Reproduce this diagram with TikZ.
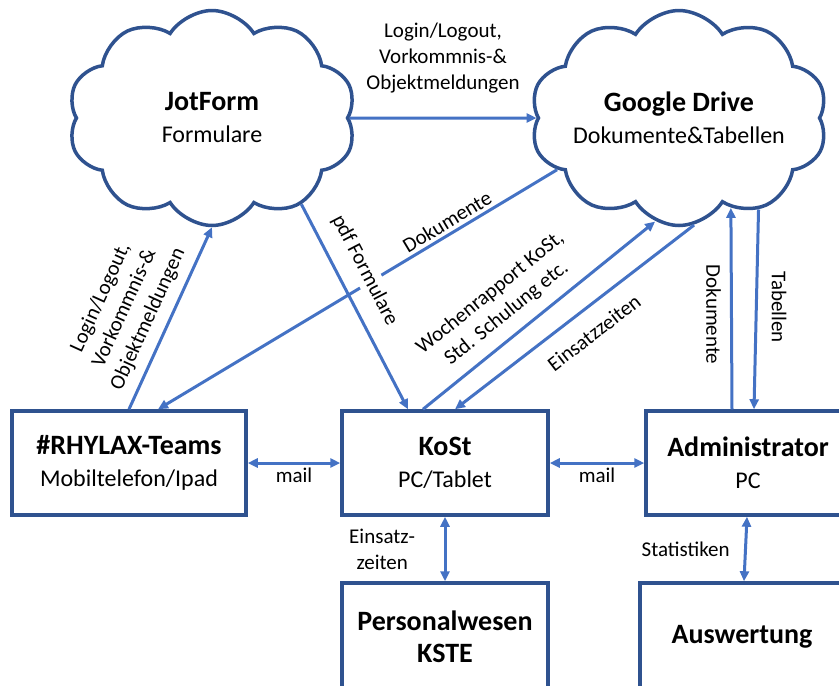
\documentclass[tikz,border=0pt]{standalone}
\usepackage{fontspec}
\setmainfont{Carlito}
\usepackage{xcolor}
\usepackage{tikz}
\usetikzlibrary{shapes, arrows.meta, positioning, calc}
\definecolor{linkblue}{HTML}{4472C4}
\definecolor{edgeblue}{HTML}{2F528F}
\newcommand{\kopf}[1]{{\fontsize{28}{34}\selectfont\bfseries #1}}
\tikzset{
    wolke/.style={
        cloud, draw=edgeblue, line width=3.5pt,
        cloud puffs=10, cloud puff arc=115, cloud ignores aspect,
        minimum width=288pt, minimum height=215pt, inner sep=0pt,
        align=center, font=\fontsize{24}{32}\selectfont
    },
    block/.style={
        rectangle, draw=edgeblue, line width=3.5pt,
        align=center, minimum height=104pt,
        font=\fontsize{24}{32}\selectfont
    },
    line/.style={draw=linkblue, line width=3pt, >={Triangle[length=10pt,width=9pt]}},
    lbl/.style={font=\fontsize{21}{26}\selectfont, align=center, text=black}
}

\begin{document}
\begin{tikzpicture}[x=1pt, y=-1pt]
    \useasboundingbox (0,0) rectangle (839,686);
    % clouds
    \node [wolke] (jot) at (212,118) {\kopf{JotForm}\\Formulare};
    \node [wolke, right of=jot, node distance=467pt] (gd) {\kopf{Google Drive}\\Dokumente\&Tabellen};
    % boxes
    \node [block, minimum width=206pt] (kost) at (445,463) {\kopf{KoSt}\\PC/Tablet};
    \node [block, minimum width=234pt, left of=kost, node distance=316pt] (rhylax) {\kopf{\#RHYLAX-Teams}\\Mobiltelefon/Ipad};
    \node [block, minimum width=204pt, right of=kost, node distance=303pt] (admin) {\kopf{Administrator}\\PC};
    \node [block, minimum width=206pt, minimum height=108pt, below of=kost, node distance=174pt] (personal) {\kopf{Personalwesen}\\\kopf{KSTE}};
    \node [block, minimum width=204pt, minimum height=108pt, below of=admin, node distance=174pt, xshift=-6pt] (ausw) {\kopf{Auswertung}};

    \draw [line, ->] (jot.east) -- node [lbl, above=20pt] {Login/Logout,\\Vorkommnis-\&\\Objektmeldungen} (gd.west);
    \draw [line, ->] (rhylax.north) -- node [lbl, sloped, above=6pt, pos=0.45] {Login/Logout,\\Vorkommnis-\&\\Objektmeldungen} (jot.south);
    \draw [line, <-] ([xshift=29pt]rhylax.north) -- node [lbl, sloped, above, pos=0.74] {Dokumente} (gd.203);
    \draw [line, ->] (jot.-44) -- node [lbl, sloped, above=12pt, pos=0.38, fill=white] {pdf Formulare} ([xshift=-37pt]kost.north);
    \draw [line, ->] ([xshift=-22pt]kost.north) -- node [lbl, sloped, above=8pt, pos=0.42] {Wochenrapport KoSt,\\Std. Schulung etc.} (gd.257);
    \draw [line, <-] ([xshift=10pt]kost.north) -- node [lbl, sloped, below=12pt, pos=0.52] {Einsatzzeiten} (gd.-82);
    \draw [line, ->] ([xshift=-16pt]admin.north) -- node [lbl, rotate=-90, anchor=north, inner sep=9pt, pos=0.47] {Dokumente} (gd.-60);
    \draw [line, <-] ([xshift=6pt]admin.north) -- node [lbl, rotate=-90, anchor=south, inner sep=14pt, pos=0.51] {Tabellen} (gd.-49);

    \draw [line, <->] (rhylax.east) -- node [lbl, below] {mail} (kost.west);
    \draw [line, <->] (kost.east) -- node [lbl, below] {mail} (admin.west);
    \draw [line, <->] (kost.south) -- node [lbl, left=25pt] {Einsatz-\\zeiten} (personal.north);
    \draw [line, <->] ([xshift=-1pt]admin.south) -- node [lbl, left=11pt] {Statistiken} ([xshift=2pt]ausw.north);
\end{tikzpicture}
\end{document}
